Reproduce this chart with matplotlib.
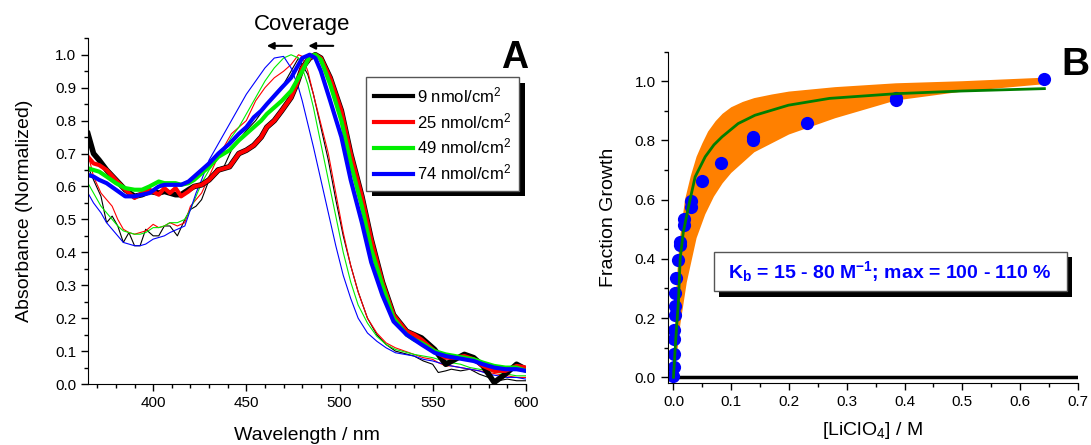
import matplotlib
matplotlib.use("Agg")
import matplotlib.pyplot as plt
import matplotlib.patheffects as pe
from matplotlib.lines import Line2D
from matplotlib.patches import Rectangle, FancyArrowPatch
from matplotlib.ticker import MultipleLocator, FormatStrFormatter

plt.rcParams.update({
    "font.family": ["Liberation Sans", "DejaVu Sans"],
    "mathtext.fontset": "custom",
    "mathtext.rm": "Liberation Sans",
    "mathtext.bf": "Liberation Sans:bold",
    "mathtext.it": "Liberation Sans:italic",
    "font.size": 11,
})

# ---- panel A: spectra (wavelength nm, normalized absorbance) ----
labels = ["9 nmol/cm$^2$", "25 nmol/cm$^2$", "49 nmol/cm$^2$", "74 nmol/cm$^2$"]
colors = ["#000000", "#ff0000", "#00ee00", "#0000ff"]

# thick curves
wl_k = [365, 368, 371, 375, 380, 385, 390, 394, 398, 403, 406, 409, 412, 415, 419, 422,
        426, 430, 435, 441, 446, 450, 454, 458, 461, 465, 469, 474, 477, 480, 484, 487,
        490, 495, 501, 506, 512, 517, 523, 529, 536, 540, 544, 551, 557, 562, 567, 572,
        577, 583, 589, 595, 600]
abs_k_black = [0.76, 0.70, 0.68, 0.65, 0.62, 0.59, 0.57, 0.575, 0.585, 0.58, 0.585, 0.58, 0.575, 0.575, 0.59, 0.60,
               0.605, 0.62, 0.65, 0.66, 0.70, 0.71, 0.725, 0.75, 0.78, 0.80, 0.83, 0.87, 0.91, 0.96, 0.99, 1.0,
               0.99, 0.93, 0.83, 0.70, 0.57, 0.44, 0.31, 0.21, 0.16, 0.15, 0.14, 0.105, 0.06, 0.075, 0.09, 0.08,
               0.055, 0.005, 0.03, 0.06, 0.045]
abs_k_red = [0.69, 0.67, 0.665, 0.65, 0.62, 0.59, 0.565, 0.58, 0.59, 0.575, 0.595, 0.58, 0.595, 0.57, 0.585, 0.60,
             0.605, 0.62, 0.65, 0.66, 0.70, 0.71, 0.725, 0.75, 0.78, 0.80, 0.83, 0.87, 0.91, 0.96, 0.99, 1.0,
             0.99, 0.93, 0.83, 0.70, 0.57, 0.44, 0.31, 0.21, 0.16, 0.15, 0.135, 0.10, 0.08, 0.08, 0.085, 0.075,
             0.055, 0.04, 0.04, 0.055, 0.05]
abs_k_green = [0.655, 0.65, 0.645, 0.63, 0.61, 0.595, 0.59, 0.59, 0.60, 0.615, 0.61, 0.61, 0.61, 0.605, 0.61, 0.62,
               0.64, 0.66, 0.69, 0.71, 0.74, 0.76, 0.78, 0.80, 0.82, 0.84, 0.86, 0.89, 0.92, 0.95, 0.995, 1.0,
               0.985, 0.91, 0.80, 0.67, 0.54, 0.41, 0.30, 0.20, 0.15, 0.135, 0.125, 0.10, 0.09, 0.085, 0.08, 0.075,
               0.065, 0.055, 0.05, 0.05, 0.04]
abs_k_blue = [0.635, 0.63, 0.62, 0.61, 0.59, 0.57, 0.57, 0.575, 0.58, 0.60, 0.605, 0.605, 0.605, 0.605, 0.615, 0.63,
              0.65, 0.67, 0.70, 0.73, 0.76, 0.78, 0.81, 0.83, 0.85, 0.875, 0.90, 0.93, 0.96, 0.99, 1.0, 0.99,
              0.95, 0.86, 0.75, 0.62, 0.49, 0.37, 0.27, 0.19, 0.15, 0.135, 0.12, 0.095, 0.085, 0.08, 0.075, 0.07,
              0.06, 0.05, 0.045, 0.045, 0.04]

# thin curves
wl_t = [365, 368, 372, 375, 378, 381, 384, 387, 390, 393, 396, 400, 403, 406, 409, 413,
        417, 420, 423, 426, 430, 434, 438, 442, 446, 450, 455, 460, 465, 470, 474, 478,
        480, 483, 486, 490, 494, 498, 502, 506, 510, 515, 520, 525, 530, 540, 545, 550,
        553, 557, 560, 565, 570, 575, 580, 585, 590, 595, 600]
abs_t_black = [0.66, 0.62, 0.57, 0.49, 0.51, 0.48, 0.43, 0.46, 0.42, 0.42, 0.47, 0.45, 0.45, 0.48, 0.48, 0.45,
               0.50, 0.53, 0.54, 0.56, 0.62, 0.655, 0.66, 0.71, 0.74, 0.77, 0.80, 0.84, 0.88, 0.91, 0.95, 0.99,
               0.97, 0.94, 0.88, 0.78, 0.68, 0.56, 0.45, 0.36, 0.28, 0.20, 0.15, 0.12, 0.10, 0.085, 0.07, 0.06,
               0.035, 0.04, 0.045, 0.04, 0.045, 0.03, 0.02, 0.01, 0.015, 0.01, 0.01]
abs_t_red = [0.70, 0.63, 0.58, 0.56, 0.54, 0.50, 0.47, 0.46, 0.455, 0.46, 0.465, 0.485, 0.475, 0.48, 0.49, 0.48,
             0.49, 0.54, 0.56, 0.58, 0.63, 0.68, 0.72, 0.76, 0.78, 0.80, 0.86, 0.90, 0.93, 0.95, 0.97, 1.0,
             0.995, 0.95, 0.88, 0.79, 0.70, 0.58, 0.46, 0.36, 0.28, 0.20, 0.155, 0.125, 0.11, 0.09, 0.08, 0.075,
             0.065, 0.055, 0.055, 0.05, 0.045, 0.04, 0.035, 0.03, 0.025, 0.02, 0.02]
abs_t_green = [0.61, 0.58, 0.54, 0.52, 0.50, 0.48, 0.465, 0.46, 0.455, 0.455, 0.46, 0.475, 0.475, 0.48, 0.49, 0.49,
               0.50, 0.53, 0.57, 0.61, 0.65, 0.68, 0.71, 0.75, 0.78, 0.82, 0.87, 0.92, 0.96, 0.99, 1.0, 0.99,
               0.96, 0.91, 0.84, 0.73, 0.62, 0.51, 0.40, 0.31, 0.24, 0.185, 0.145, 0.12, 0.105, 0.09, 0.085, 0.08,
               0.075, 0.07, 0.065, 0.06, 0.05, 0.045, 0.04, 0.035, 0.03, 0.025, 0.025]
abs_t_blue = [0.58, 0.55, 0.52, 0.49, 0.47, 0.45, 0.43, 0.425, 0.42, 0.42, 0.425, 0.44, 0.445, 0.45, 0.46, 0.47,
              0.48, 0.53, 0.58, 0.62, 0.68, 0.72, 0.76, 0.80, 0.84, 0.88, 0.92, 0.96, 0.99, 0.995, 0.96, 0.90,
              0.86, 0.79, 0.72, 0.62, 0.52, 0.42, 0.33, 0.26, 0.20, 0.155, 0.13, 0.11, 0.095, 0.085, 0.075, 0.07,
              0.065, 0.06, 0.055, 0.05, 0.045, 0.04, 0.03, 0.025, 0.02, 0.02, 0.015]

# ---- panel B: titration ----
conc = [0.0, 0.0005, 0.0008, 0.001, 0.001, 0.002, 0.002, 0.003, 0.005, 0.0073, 0.011, 0.011,
        0.018, 0.018, 0.030, 0.030, 0.050, 0.083, 0.1385, 0.1385, 0.231, 0.386, 0.386, 0.642]
growth = [0.005, 0.035, 0.08, 0.13, 0.16, 0.21, 0.24, 0.285, 0.335, 0.395, 0.448, 0.456,
          0.515, 0.533, 0.576, 0.594, 0.664, 0.725, 0.803, 0.810, 0.859, 0.935, 0.945, 1.007]

fit_x = [0.0, 0.004, 0.0087, 0.0116, 0.017, 0.026, 0.0375, 0.055, 0.07, 0.084, 0.112, 0.141,
         0.199, 0.27, 0.386, 0.5, 0.642]
fit_y = [0.0, 0.13, 0.26, 0.40, 0.49, 0.576, 0.677, 0.745, 0.785, 0.812, 0.857, 0.885,
         0.919, 0.942, 0.958, 0.967, 0.975]

# confidence band (upper and lower edges)
hi_x = [0.0, 0.005, 0.01, 0.02, 0.03, 0.04, 0.05, 0.06, 0.073, 0.085, 0.1, 0.12, 0.14,
        0.17, 0.2, 0.28, 0.385, 0.5, 0.642]
hi_y = [0.0, 0.30, 0.45, 0.60, 0.68, 0.745, 0.79, 0.83, 0.865, 0.89, 0.912, 0.93, 0.943,
        0.955, 0.965, 0.98, 0.993, 1.0, 1.012]
lo_x = [0.0, 0.005, 0.012, 0.023, 0.04, 0.055, 0.07, 0.085, 0.1, 0.14, 0.2, 0.28, 0.385,
        0.5, 0.642]
lo_y = [0.0, 0.06, 0.18, 0.32, 0.47, 0.55, 0.61, 0.655, 0.69, 0.76, 0.82, 0.875, 0.935,
        0.965, 0.99]

fig = plt.figure(figsize=(10.91, 4.45), dpi=100)
shadow = [pe.SimplePatchShadow(offset=(4, -4), shadow_rgbFace="black", alpha=1), pe.Normal()]

# ================= panel A =================
axA = fig.add_axes([0.0806, 0.137, 0.4014, 0.777])
for ys, c in zip([abs_t_black, abs_t_red, abs_t_green, abs_t_blue], colors):
    axA.plot(wl_t, ys, color=c, lw=0.8)
for ys, c, w in zip([abs_k_black, abs_k_red, abs_k_green, abs_k_blue], colors, [4.0, 3.0, 3.0, 3.0]):
    axA.plot(wl_k, ys, color=c, lw=w, solid_joinstyle="round")

axA.set_xlim(365, 600)
axA.set_ylim(0, 1.05)
axA.xaxis.set_major_locator(MultipleLocator(50))
axA.xaxis.set_minor_locator(MultipleLocator(10))
axA.yaxis.set_major_locator(MultipleLocator(0.1))
axA.yaxis.set_minor_locator(MultipleLocator(0.05))
axA.yaxis.set_major_formatter(FormatStrFormatter("%.1f"))
axA.set_xlabel("Wavelength / nm", fontsize=14, labelpad=12)
axA.set_ylabel("Absorbance (Normalized)", fontsize=14, labelpad=16)

handles = [Line2D([], [], color=c, lw=3) for c in colors]
leg = axA.legend(handles, labels, loc="upper right", bbox_to_anchor=(0.985, 0.888),
                 borderaxespad=0, fancybox=False, framealpha=1, fontsize=12,
                 handlelength=2.3, handletextpad=0.25, labelspacing=0.35, borderpad=0.5)
leg.get_frame().set_edgecolor("#555555")
leg.get_frame().set_linewidth(1.0)
leg.get_frame().set_path_effects(shadow)

axA.text(1.005, 0.995, "A", transform=axA.transAxes, fontsize=27, fontweight="bold",
         ha="right", va="top")
fig.text(0.277, 0.945, "Coverage", fontsize=16, ha="center", va="center")
for x0, x1 in [(0.270, 0.242), (0.308, 0.280)]:
    fig.add_artist(FancyArrowPatch((x0, 0.897), (x1, 0.897), transform=fig.transFigure,
                                   arrowstyle="-|>", mutation_scale=10, lw=1.5, color="black"))

# ================= panel B =================
axB = fig.add_axes([0.612, 0.139, 0.376, 0.745])
axB.fill(hi_x + lo_x[::-1], hi_y + lo_y[::-1], color="#ff8000", lw=0)
axB.axhline(0, color="black", lw=2.5)
axB.plot(conc, growth, "o", color="#0000ff", ms=9.5, mec="none")
axB.plot(fit_x, fit_y, color="#007f00", lw=2)

axB.set_xlim(-0.01, 0.7)
axB.set_ylim(-0.02, 1.1)
axB.xaxis.set_major_locator(MultipleLocator(0.1))
axB.xaxis.set_minor_locator(MultipleLocator(0.05))
axB.yaxis.set_major_locator(MultipleLocator(0.2))
axB.yaxis.set_minor_locator(MultipleLocator(0.1))
axB.xaxis.set_major_formatter(FormatStrFormatter("%.1f"))
axB.yaxis.set_major_formatter(FormatStrFormatter("%.1f"))
axB.set_xlabel("[LiClO$_4$] / M", fontsize=14, labelpad=8)
axB.set_ylabel("Fraction Growth", fontsize=14, labelpad=13)

box = Rectangle((0.112, 0.278), 0.861, 0.118, transform=axB.transAxes,
                facecolor="white", edgecolor="#555555", lw=1, zorder=5)
box.set_path_effects(shadow)
axB.add_patch(box)
axB.text(0.542, 0.337, r"K$_\mathbf{b}$ = 15 - 80 M$^\mathbf{-1}$; max = 100 - 110 %",
         transform=axB.transAxes, fontsize=14, fontweight="bold", color="#0000ff",
         ha="center", va="center", zorder=6)
fig.text(0.999, 0.855, "B", fontsize=28, fontweight="bold", ha="right", va="center")

for ax in (axA, axB):
    ax.spines["top"].set_visible(False)
    ax.spines["right"].set_visible(False)
    ax.tick_params(which="major", direction="out", length=5, width=1, labelsize=11)
    ax.tick_params(which="minor", direction="out", length=3, width=1)

fig.savefig("out.png", dpi=100)
